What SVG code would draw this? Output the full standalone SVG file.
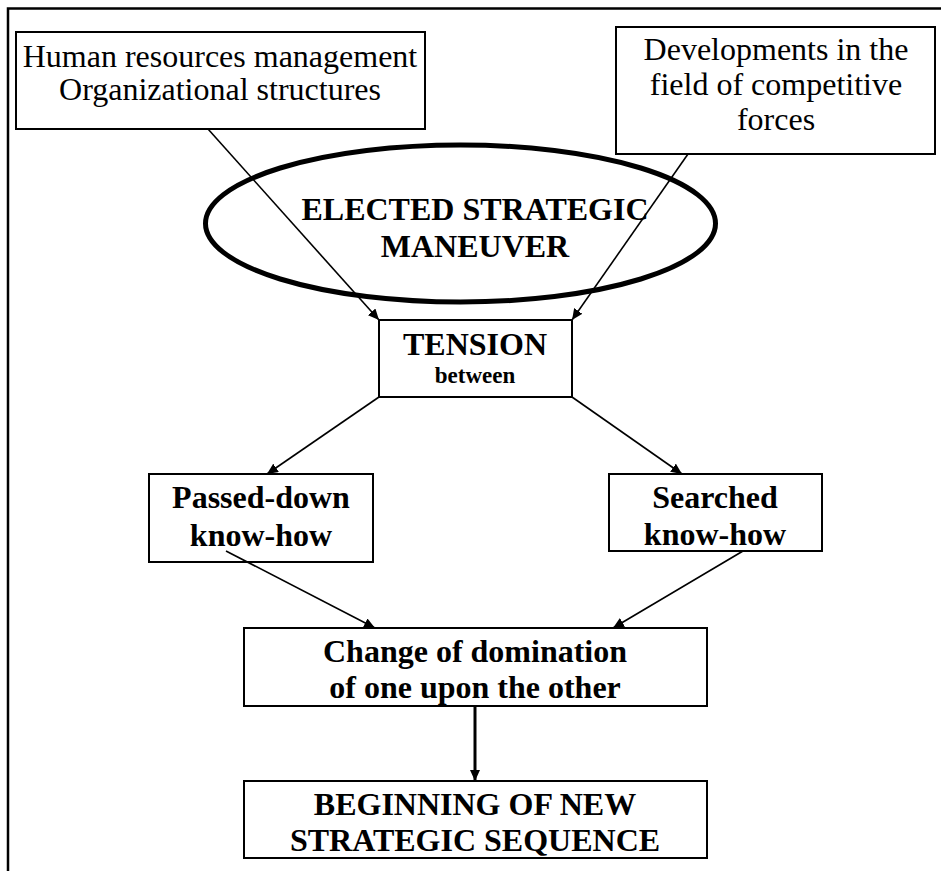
<svg xmlns="http://www.w3.org/2000/svg" width="941" height="871" viewBox="0 0 941 871">
<style>
  .box{fill:#fff;stroke:#000;stroke-width:2}
  .reg{font-family:"Liberation Serif","Times New Roman",serif;font-size:32px;text-anchor:middle;fill:#000}
  .bold{font-family:"Liberation Serif","Times New Roman",serif;font-size:32px;font-weight:bold;text-anchor:middle;fill:#000}
  .conn{stroke:#000;stroke-width:1.6;fill:none;marker-end:url(#ah)}
  .thick{stroke:#000;stroke-width:3;fill:none;marker-end:url(#ahb)}
</style>
<defs>
  <marker id="ah" markerUnits="userSpaceOnUse" markerWidth="12" markerHeight="10" refX="11" refY="5" orient="auto">
    <path d="M0,0 L11,5 L0,10 Z" fill="#000"/>
  </marker>
  <marker id="ahb" markerUnits="userSpaceOnUse" markerWidth="12" markerHeight="10" refX="11" refY="5" orient="auto">
    <path d="M0,0 L11,5 L0,10 Z" fill="#000"/>
  </marker>
</defs>
<rect width="941" height="871" fill="#fff"/>
<path d="M8,871 V8.5 H941" fill="none" stroke="#000" stroke-width="2.5"/>

<g id="ellipse-maneuver">
  <ellipse cx="460.5" cy="223.5" rx="255" ry="78.5" fill="none" stroke="#000" stroke-width="5"/>
  <text class="bold" x="475" y="220">ELECTED STRATEGIC</text>
  <text class="bold" x="475" y="257">MANEUVER</text>
</g>

<g id="node-hr">
  <rect class="box" x="16" y="32" width="409" height="97"/>
  <text class="reg" x="220" y="67">Human resources management</text>
  <text class="reg" x="220" y="100">Organizational structures</text>
</g>

<g id="node-dev">
  <rect class="box" x="616" y="27" width="319" height="127"/>
  <text class="reg" x="776" y="60">Developments in the</text>
  <text class="reg" x="776" y="95">field of competitive</text>
  <text class="reg" x="776" y="130">forces</text>
</g>

<g id="node-tension">
  <rect class="box" x="379" y="320" width="193" height="77"/>
  <text class="bold" x="475" y="355">TENSION</text>
  <text class="bold" x="475" y="383" style="font-size:23px">between</text>
</g>

<g id="node-passed">
  <rect class="box" x="149" y="474" width="224" height="88"/>
  <text class="bold" x="261" y="508">Passed-down</text>
  <text class="bold" x="261" y="546">know-how</text>
</g>

<g id="node-searched">
  <rect class="box" x="609" y="474" width="213" height="77"/>
  <text class="bold" x="715" y="508">Searched</text>
  <text class="bold" x="715" y="545">know-how</text>
</g>

<g id="node-change">
  <rect class="box" x="244" y="628" width="463" height="78"/>
  <text class="bold" x="475" y="662">Change of domination</text>
  <text class="bold" x="475" y="698">of one upon the other</text>
</g>

<g id="node-beginning">
  <rect class="box" x="244" y="781" width="463" height="77"/>
  <text class="bold" x="475" y="815">BEGINNING OF NEW</text>
  <text class="bold" x="475" y="851">STRATEGIC SEQUENCE</text>
</g>

<g id="connectors">
  <path class="conn" d="M208,129 L379,320"/>
  <path class="conn" d="M688,154 L572,320"/>
  <path class="conn" d="M379,397 L267,474"/>
  <path class="conn" d="M572,397 L682,474"/>
  <path class="conn" d="M226,551 L375,628"/>
  <path class="conn" d="M743,551 L613,628"/>
  <path class="thick" d="M475,706 L475,781"/>
</g>
</svg>
